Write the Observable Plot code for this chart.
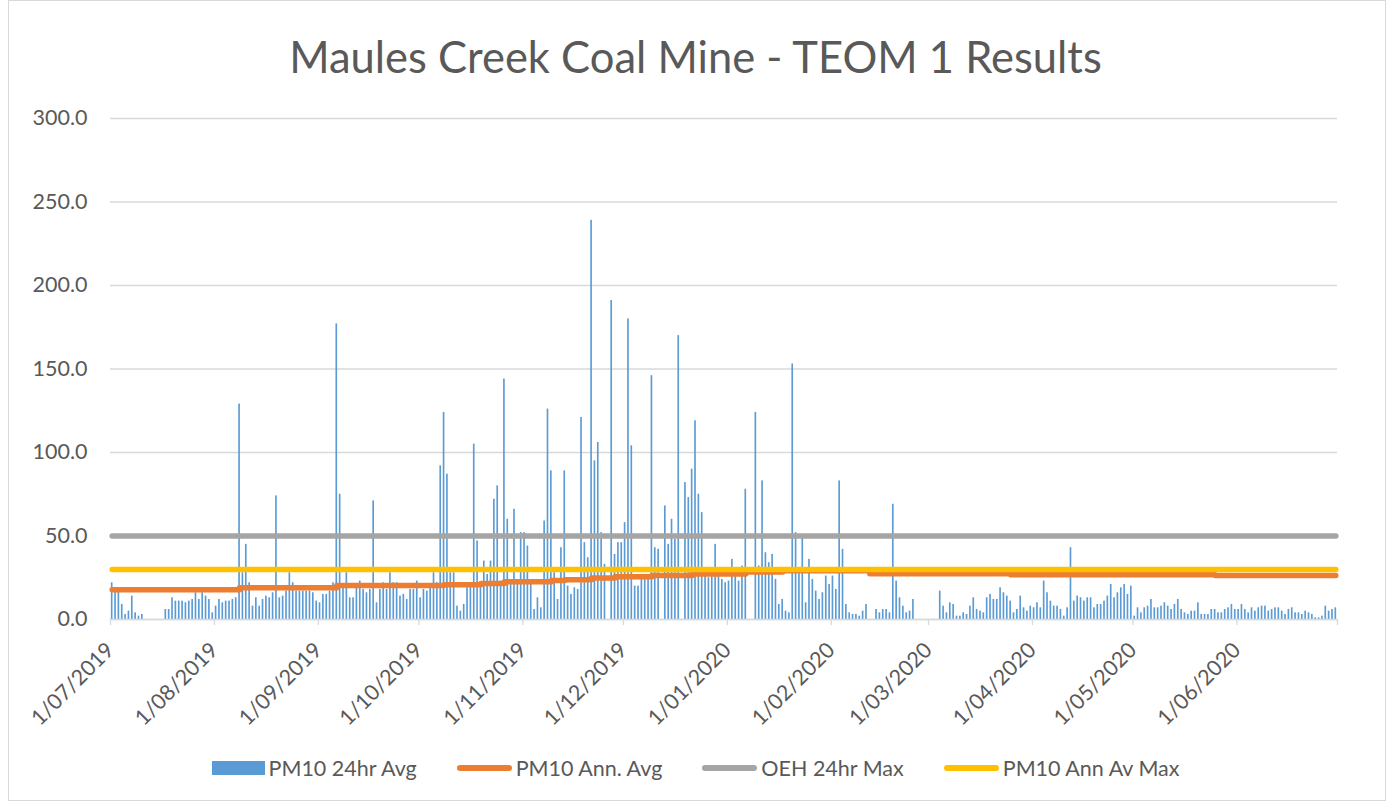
<!DOCTYPE html>
<html>
<head>
<meta charset="utf-8">
<script src="https://cdn.jsdelivr.net/npm/d3@7"></script>
<script src="https://cdn.jsdelivr.net/npm/@observablehq/plot@0.6"></script>
<style>
  html, body { margin: 0; padding: 0; background: #fff; }
  body { width: 1391px; height: 802px; overflow: hidden; position: relative;
         font-family: Lato, "Open Sans", sans-serif; color: #595959; }
  #frame { position: absolute; left: 8px; top: 0px; width: 1378px; height: 801px;
           border: 1px solid #d9d9d9; box-sizing: border-box; pointer-events: none; }
  #title { height: 100px; box-sizing: border-box; padding-top: 30px; text-align: center;
           font-size: 43.5px; line-height: 1.2; color: #595959; white-space: nowrap; }
  #chart svg { display: block; overflow: visible; }
  #legend { height: 57px; display: flex; justify-content: center; align-items: flex-start;
            gap: 40px; font-size: 21.5px; color: #595959; padding-left: 0px; box-sizing: border-box; }
  .item { display: flex; align-items: center; gap: 4px; height: 46px; }
  .sw-bar { width: 53px; height: 14px; }
  .sw-line { width: 55px; height: 6px; border-radius: 3px; }
</style>
</head>
<body>
<div id="frame"></div>
<div id="title">Maules Creek Coal Mine - TEOM 1 Results</div>
<div id="chart"></div>
<div id="legend"></div>
<script>
// ---- Data ----
const startDate = "2019-07-01";           // first day of the daily series
// PM10 24hr average, one value per day from 1/07/2019 to 30/06/2020 (null = no data)
const pm10 = [
  22,17,17,9,3,5,14,4,2,3, null,null,null,null,null,null, 6,6,13,11,
  11,11,10,11,12,16,12,16,14,12, 4,8,12,10,11,11,12,13,129,28,
  45,22,8,13,8,12, 14,13,16,74,13,14,17,28,22,17,
  17,17,17,17,16,11,10,15,15,17,22,177,75,19,28,13,
  13,19,23,18,16,18,71,10,18,22,18,28,22,22,14,15,
  12,18,18,23, 13,18,17,19,28,22,92,124,87,28,28,8,
  5,9,19,22,105,47,22,35,27,35,72,80,23,144,60,23,
  66,23,52,52,44,22,6,13,7,59,126,89,28,12,43,89,
  20,15,19, 18,121,46,37,239,95,106,52,33,null,191,39,46,46,58,
  180,104,20,20,27,27,27,146,43,42,null,68,45,60,48,170,
  null,82,73,90,119,75,64,26,25,26,45,26,24,22,23,
  36,26,23,32,78,null,null,124,32,83,40,34,39,24,9,12,
  5,4,153,52,28,51,10,36,24,17,12,16,26,21,26,18,
  83,42,9,4,3,3,2,5,9,null,null,6,4,6,
  6,4,69,23,13,8,4,5,12, null,null,null,null,null,null,null,
  17,8,4,10,9,2,2,4,3,8,13,6,5,4,13,15,12,12,19,16,
  14,11,4,6,14,7,5,8,7,10,7,
  23,16,11,8,8,6,2,7,43,11,14,13,11,13,13,7,9,9,11,14,
  21,13,16,19,21,15,20,2,7,4,7,8,12,7,7,8,10,8,6,9,
  12,6,4,3,5,5,
  10,3,3,3,6,6,4,4,6,7,9,6,6,9,6,4,7,5,7,8,
  8,5,6,7,7,5,3,6,7,4,4,3,5,4,3,1,1,2,8,5,
  6,7
];
// PM10 annual average (running), change points
const annAvgDates  = ["2019-07-01","2019-08-08","2019-09-06","2019-10-08","2019-10-19","2019-10-26",
                      "2019-11-09","2019-11-13","2019-11-21","2019-11-28","2019-12-09","2019-12-21",
                      "2020-01-06","2020-01-17","2020-02-12","2020-03-25","2020-05-25","2020-06-30"];
const annAvgValues = [17.8,19.0,20.4,20.8,21.6,22.6,
                      23.4,23.8,24.8,25.6,26.4,27.2,
                      28.4,29.2,27.4,26.8,26.3,26.3];
const oehMax = 50;      // OEH 24hr Max
const annAvMax = 30;    // PM10 Ann Av Max
const yTicks = [0, 50, 100, 150, 200, 250, 300];
const yTickLabels = ["0.0", "50.0", "100.0", "150.0", "200.0", "250.0", "300.0"];
const xTickDates = ["2019-07-01","2019-08-01","2019-09-01","2019-10-01","2019-11-01","2019-12-01",
                    "2020-01-01","2020-02-01","2020-03-01","2020-04-01","2020-05-01","2020-06-01","2020-07-01"];
const xTickLabels = ["1/07/2019","1/08/2019","1/09/2019","1/10/2019","1/11/2019","1/12/2019",
                     "1/01/2020","1/02/2020","1/03/2020","1/04/2020","1/05/2020","1/06/2020",""];
const seriesNames = ["PM10 24hr Avg", "PM10 Ann. Avg", "OEH 24hr Max", "PM10 Ann Av Max"];
const seriesColors = ["#5B9BD5", "#ED7D31", "#A5A5A5", "#FFC000"];

// ---- Build tables ----
const DAY = 864e5;
const t0 = new Date(startDate);
const mid = d => new Date(+d + DAY / 2);
const daily = pm10.map((v, i) => ({date: new Date(+t0 + i * DAY), value: v})).filter(d => d.value != null);
const firstDay = new Date(+t0), lastDay = new Date(+t0 + (pm10.length - 1) * DAY);
const annAvg = annAvgDates.map((s, i) => ({date: mid(new Date(s)), value: annAvgValues[i]}));
const limitLine = v => [{date: mid(firstDay), value: v}, {date: mid(lastDay), value: v}];
const xTicks = xTickDates.map(s => new Date(s));
const xLabel = new Map(xTicks.map((d, i) => [+d, xTickLabels[i]]));
const yLabel = new Map(yTicks.map((v, i) => [v, yTickLabels[i]]));

const chart = Plot.plot({
  width: 1391,
  height: 645,
  marginLeft: 110,
  marginRight: 54,
  marginTop: 18,
  marginBottom: 126,
  style: {fontFamily: "Lato, 'Open Sans', sans-serif", fontSize: "21.5px", color: "#595959", background: "transparent", overflow: "visible"},
  x: {type: "utc", domain: [xTicks[0], xTicks[xTicks.length - 1]], label: null},
  y: {domain: [0, 300], label: null},
  marks: [
    Plot.gridY(yTicks, {stroke: "#D9D9D9", strokeOpacity: 1, strokeWidth: 1.3}),
    Plot.rectY(daily, {x: "date", y: "value", interval: d3.utcDay, fill: seriesColors[0], insetLeft: 0.85, insetRight: 0.85}),
    Plot.ruleY([0], {stroke: "#D9D9D9", strokeWidth: 1.3}),
    Plot.line(annAvg, {x: "date", y: "value", curve: "step-after", stroke: seriesColors[1], strokeWidth: 5.5, strokeLinecap: "round", strokeLinejoin: "round"}),
    Plot.line(limitLine(oehMax), {x: "date", y: "value", stroke: seriesColors[2], strokeWidth: 5.5, strokeLinecap: "round"}),
    Plot.line(limitLine(annAvMax), {x: "date", y: "value", stroke: seriesColors[3], strokeWidth: 5.5, strokeLinecap: "round"}),
    Plot.axisX(xTicks, {tickSize: 6, tickPadding: 21, tickRotate: -45, stroke: "#D9D9D9", strokeWidth: 1.3, fill: "#595959",
                        tickFormat: d => xLabel.get(+d), label: null}),
    Plot.axisY(yTicks, {tickSize: 0, tickPadding: 23, fill: "#595959", tickFormat: v => yLabel.get(v), label: null})
  ]
});
document.getElementById("chart").appendChild(chart);

// ---- Legend ----
const legend = document.getElementById("legend");
seriesNames.forEach((name, i) => {
  const item = document.createElement("div");
  item.className = "item";
  const sw = document.createElement("div");
  sw.className = i === 0 ? "sw-bar" : "sw-line";
  sw.style.background = seriesColors[i];
  const tx = document.createElement("span");
  tx.textContent = name;
  item.appendChild(sw);
  item.appendChild(tx);
  legend.appendChild(item);
});
</script>
</body>
</html>
